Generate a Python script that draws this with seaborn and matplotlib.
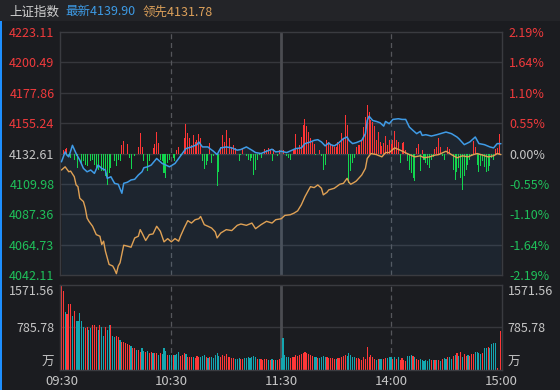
import matplotlib
matplotlib.use("Agg")
import matplotlib.pyplot as plt
import seaborn as sns
import pandas as pd
from matplotlib.patches import Rectangle

# ---------------- data ----------------
index_name = "上证指数"
last_price = 4139.90
lead_last = 4131.78
prev_close = 4132.61
price_ticks = [4223.11, 4200.49, 4177.86, 4155.24, 4132.61, 4109.98, 4087.36, 4064.73, 4042.11]
pct_labels = ["2.19%", "1.64%", "1.10%", "0.55%", "0.00%", "-0.55%", "-1.10%", "-1.64%", "-2.19%"]
time_pos = [0, 60, 120, 180, 240]
time_labels = ["09:30", "10:30", "11:30", "14:00", "15:00"]
vol_ticks = [160, 785.78, 1571.56]
vol_tick_labels = ["万", "785.78", "1571.56"]

price_min = [0,2,3,4,6,8,10,12,14,16,18,20,22,24,25,27,29,31,33,34,36,38,40,42,44,45,47,49,52,54,
             55,57,59,62,64,66,68,71,74,75,77,80,81,83,85,87,90,93,96,98,101,104,106,109,112,115,117,120,123,126,
             128,131,133,136,138,140,142,144,146,147,149,151,154,156,157,159,161,164,166,167,168,170,172,174,176,177,179,181,184,186,
             188,190,192,194,196,197,199,202,205,207,210,213,216,217,220,223,226,228,231,234,236,238,240]
price_val = [4126.4,4133.8,4131.4,4130.1,4138.7,4132.6,4127.7,4121.5,4119.0,4120.3,4117.8,4124.0,4121.5,4120.3,4114.1,4115.3,4110.4,4109.7,4103.0,4110.4,
             4111.2,4112.9,4113.4,4116.6,4119.0,4122.0,4122.7,4124.0,4128.9,4126.4,4125.2,4124.0,4122.7,4125.2,4128.9,4132.6,4136.3,4137.5,4139.2,4141.2,
             4137.5,4137.5,4136.3,4134.3,4131.8,4136.8,4137.5,4136.8,4135.1,4135.6,4137.5,4135.1,4133.3,4132.6,4134.3,4135.8,4133.8,4134.3,4133.3,4135.1,
             4136.3,4136.8,4140.0,4141.2,4142.4,4142.9,4141.2,4138.3,4140.5,4139.2,4138.3,4140.0,4143.7,4144.9,4142.4,4140.0,4140.7,4142.4,4147.4,4157.2,
             4160.4,4157.2,4156.5,4155.5,4153.0,4156.5,4154.8,4158.0,4158.5,4158.0,4158.0,4152.3,4149.8,4147.4,4149.1,4146.1,4146.6,4145.6,4146.6,4147.4,
             4148.6,4147.4,4144.9,4143.7,4139.2,4141.2,4144.9,4140.0,4139.2,4137.5,4136.8,4140.0,4139.9]

lead_min = [0,2,4,5,7,8,9,10,12,13,14,15,17,19,21,22,23,24,26,28,29,30,31,32,34,36,38,40,42,43,
            44,46,48,50,52,54,56,58,60,62,64,65,67,69,71,73,75,76,78,80,82,84,85,87,90,93,96,98,101,104,
            106,109,112,115,117,120,122,125,127,129,131,133,135,136,138,140,142,143,145,146,149,152,154,156,157,158,160,161,164,166,
            167,169,172,175,177,179,182,185,187,190,193,196,198,201,204,206,210,213,216,219,222,225,227,230,233,236,238,240]
lead_val = [4120.3,4122.7,4119.0,4119.5,4115.3,4109.2,4107.9,4099.3,4096.8,4091.9,4084.5,4082.1,4078.4,4072.2,4071.0,4064.8,4067.3,4059.9,4050.0,4048.8,
            4046.3,4043.1,4048.8,4051.2,4064.3,4063.6,4062.8,4069.7,4071.0,4075.9,4073.4,4067.8,4072.2,4072.7,4078.4,4074.7,4066.8,4069.2,4066.8,4069.2,
            4067.3,4071.0,4077.1,4082.6,4080.8,4083.3,4084.0,4085.7,4079.6,4078.4,4077.1,4074.2,4069.7,4073.4,4075.9,4075.2,4079.1,4080.1,4079.1,4080.8,
            4076.6,4079.6,4082.1,4080.8,4083.3,4084.0,4086.5,4087.0,4088.2,4089.9,4094.4,4100.5,4105.5,4107.9,4107.2,4109.2,4106.7,4101.8,4103.7,4105.5,
            4106.7,4109.7,4110.4,4114.1,4111.2,4109.7,4111.2,4112.1,4116.6,4121.5,4128.9,4132.6,4131.8,4130.1,4133.3,4133.3,4136.8,4135.1,4133.8,4131.8,
            4130.1,4130.9,4129.4,4130.1,4131.4,4131.8,4134.3,4131.8,4129.4,4130.9,4130.1,4131.8,4132.6,4131.4,4130.1,4130.9,4132.6,4131.78]

# up/down breadth bars around the zero line: (minute, strength)
breadth = [(1,11),(2,14),(3,16),(4,-9),(5,-14),(7,-19),(8,-9),(9,-44),(11,-29),(12,-24),(13,-34),(14,-39),(16,-24),(17,-19),
           (18,-34),(19,-44),(20,-49),(22,-54),(23,-54),(24,-69),(25,-96),(26,-59),(27,-44),(29,-24),(30,-39),(31,-19),(32,-22),
           (33,26),(34,38),(36,28),(37,-14),(38,-46),(40,-9),(42,21),(43,63),(44,21),(45,-24),(47,-54),(48,-24),(50,18),(51,28),
           (52,66),(53,31),(54,-19),(55,-24),(56,-59),(57,-74),(58,-29),(59,-19),(61,-14),(62,-24),(63,11),(64,21),(65,-6),(67,46),
           (68,88),(69,61),(70,46),(71,26),(72,56),(73,36),(74,41),(75,58),(76,46),(77,-24),(78,-46),(79,-34),(80,-24),(81,31),
           (82,-29),(83,-9),(85,-99),(86,-56),(87,21),(88,56),(89,36),(90,71),(92,48),(93,21),(94,26),(95,16),(97,-24),(98,-6),
           (99,16),(101,-9),(102,-19),(103,-24),(104,-14),(105,-64),(106,-49),(107,-19),(108,-6),(109,-14),(111,14),(112,11),
           (113,18),(114,11),(115,-24),(116,14),(118,-9),(119,11),(121,11),(123,-9),(124,-14),(125,-19),(127,11),(128,58),(129,18),
           (130,26),(131,51),(132,86),(133,104),(134,84),(135,66),(136,46),(137,36),(138,28),(139,-4),(141,11),(142,-9),(143,-49),
           (144,-34),(145,41),(146,36),(147,26),(148,26),(149,21),(150,21),(151,36),(152,28),(153,61),(154,48),(155,116),(156,86),
           (157,-89),(158,-54),(159,-29),(160,-14),(161,21),(162,26),(163,26),(164,38),(165,81),(166,111),(167,148),(168,126),
           (169,101),(170,96),(171,84),(172,41),(173,66),(174,36),(175,24),(176,31),(177,54),(178,26),(179,41),(180,28),(181,41),
           (182,68),(183,41),(184,34),(185,-29),(186,31),(187,36),(188,11),(189,-24),(190,-49),(191,-59),(192,-74),(193,-84),
           (194,18),(195,28),(196,-54),(197,11),(198,-19),(199,-29),(200,-34),(201,-44),(202,-19),(203,-12),(204,14),(205,21),
           (206,48),(207,21),(208,-9),(209,-19),(211,21),(212,14),(213,-4),(214,-49),(215,-79),(216,-56),(217,-44),(218,-74),
           (219,-109),(220,-69),(221,-49),(222,-34),(223,-19),(224,-9),(225,38),(226,21),(227,-34),(228,-56),(229,-39),(230,-22),
           (231,-42),(232,-56),(233,-52),(234,-39),(235,-14),(236,-19),(237,14),(238,18),(239,58)]
breadth_limit = 367

volume = [1571,1454,1061,1036,1223,1223,998,1080,911,911,
          1048,911,786,767,786,736,767,830,830,786,
          736,830,799,624,799,736,830,830,624,599,
          624,599,549,518,518,499,474,456,437,393,
          393,362,362,331,393,349,331,349,312,331,
          312,300,312,268,300,287,393,349,268,268,
          268,268,268,287,331,250,268,300,287,237,
          225,225,225,206,250,225,237,250,268,225,
          206,237,225,206,268,300,250,237,268,250,
          287,237,225,206,218,200,193,206,187,193,
          206,218,225,206,237,250,225,200,187,193,
          181,187,193,175,181,187,175,168,175,187,
          206,585,262,237,225,212,225,237,268,250,
          262,287,312,331,300,287,268,250,237,225,
          218,206,225,250,237,225,218,212,206,200,
          193,206,218,237,250,268,250,300,268,237,
          225,218,206,200,175,225,200,424,237,268,
          225,187,175,187,187,193,200,212,206,225,
          225,187,237,187,225,175,206,175,162,250,
          250,268,250,225,187,175,187,175,162,175,
          162,187,175,175,175,175,175,162,187,206,
          187,225,225,187,250,268,312,250,331,225,
          287,250,268,250,287,287,331,331,312,287,
          312,393,393,424,393,474,499,487,37,0,
          724]
vol_dir = ("rrtrrrtrtt" "tttrrttrrr" "trttrttrtt" "rrtrrrrrtr" "rtrrttrtrr" "trrtrtttrt"
           "trtttrrrtr" "rrtrrrtttr" "trtttttrrr" "rrrrrtttrr" "tttttttrtr" "rrrtrtrtrr"
           "tttttrrrrr" "rrrrrrrrtt" "rttttrrrrr" "trrrrrtttt" "trrrrrrrrr" "rrtrttrrtt"
           "trtrtrrrrt" "ttrtrrtttt" "ttrtrtrtrt" "trttrtrtrt" "rrtrrrtttt" "rttrttttrr" "r")
auction_volume = 660

# ---------------- style ----------------
BG = "#1b1c20"
HEADER = "#232428"
GRID = "#36373c"
SPINE = "#3a3b40"
RED_TXT = "#f03a3c"
GRN_TXT = "#1fc05a"
GRAY_TXT = "#c6c6c6"
BLUE = "#3f9be6"
ORANGE = "#dfa155"
BAR_RED = "#ff3535"
BAR_GRN = "#12d64e"
VOL_RED = "#ff3838"
VOL_TEAL = "#14a6b0"

sns.set_style("dark")
plt.rcParams["font.family"] = ["Noto Sans CJK SC", "DejaVu Sans"]

W, H = 560, 390
fig = plt.figure(figsize=(W / 100, H / 100), dpi=100, facecolor=BG)

fig.patches.append(Rectangle((0, 1 - 21 / H), 1, 21 / H, transform=fig.transFigure,
                             facecolor=HEADER, edgecolor="none", zorder=-2))
fig.patches.append(Rectangle((0, 0), 2 / W, 1 - 21 / H, transform=fig.transFigure,
                             facecolor="#1e8fff", edgecolor="none", zorder=-1))

fig.text(9 / W, 1 - 12 / H, index_name, color="#d0d0d0", fontsize=9, va="center", ha="left")
fig.text(65 / W, 1 - 12 / H, f"最新{last_price:.2f}", color="#3d9ae4", fontsize=9, va="center", ha="left")
fig.text(143 / W, 1 - 12 / H, f"领先{lead_last:.2f}", color="#dca05a", fontsize=9, va="center", ha="left")

left, right = 60 / W, 502 / W
ax = fig.add_axes([left, 1 - 275 / H, right - left, (275 - 32) / H])
axv = fig.add_axes([left, 1 - 369.5 / H, right - left, (369.5 - 285) / H])

xlim = (-0.8, 240.6)
for a in (ax, axv):
    a.set_facecolor(BG)
    a.set_xlim(*xlim)
    for s in a.spines.values():
        s.set_color(SPINE)
        s.set_linewidth(1)
    a.axvline(60, color="#55565b", lw=0.9, ls=(0, (4, 3)), zorder=0.5)
    a.axvline(120, color="#4b4c51", lw=2.0, zorder=0.5)
    a.axvline(180, color="#55565b", lw=0.9, ls=(0, (4, 3)), zorder=0.5)
    a.grid(False)

ylo, yhi = price_ticks[-1], price_ticks[0]
ax.set_ylim(ylo, yhi)
for t in price_ticks[1:-1]:
    ax.axhline(t, color=GRID, lw=1, zorder=0.4)

# blue area fill
ax.fill_between(price_min, price_val, ylo, color=BLUE, alpha=0.08, lw=0, zorder=1)

def tcolor(v):
    if abs(v - prev_close) < 1e-6:
        return GRAY_TXT
    return RED_TXT if v > prev_close else GRN_TXT

ax.set_yticks(price_ticks)
ax.set_yticklabels([f"{t:.2f}" for t in price_ticks])
ax.set_xticks([])
ax.tick_params(axis="y", length=0, pad=4, labelsize=9)
for lab, t in zip(ax.get_yticklabels(), price_ticks):
    lab.set_color(tcolor(t))

# breadth bars on their own hidden scale
axb = ax.twinx()
axb.set_ylim(-breadth_limit, breadth_limit)
axb.set_xlim(*xlim)
axb.set_yticks([])
for s in axb.spines.values():
    s.set_visible(False)
bdf = pd.DataFrame(breadth, columns=["minute", "strength"])
axb.bar(bdf["minute"], bdf["strength"], width=0.55,
        color=[BAR_RED if v > 0 else BAR_GRN for v in bdf["strength"]], lw=0, antialiased=False)

# lines
axl = ax.twinx()
axl.set_ylim(ylo, yhi)
axl.set_xlim(*xlim)
for s in axl.spines.values():
    s.set_visible(False)
pdf = pd.DataFrame({"minute": price_min, "price": price_val})
ldf = pd.DataFrame({"minute": lead_min, "lead": lead_val})
sns.lineplot(data=ldf, x="minute", y="lead", ax=axl, color=ORANGE, lw=1.0, legend=False)
sns.lineplot(data=pdf, x="minute", y="price", ax=axl, color=BLUE, lw=1.1, legend=False)
axl.set_xlabel("")
axl.set_ylabel("")
axl.set_xticks([])
axl.set_yticks(price_ticks)
axl.set_yticklabels(pct_labels)
axl.tick_params(axis="y", length=0, pad=5, labelsize=9)
for lab, t in zip(axl.get_yticklabels(), price_ticks):
    lab.set_color(tcolor(t))
ax.set_ylabel("")

# volume
axv.set_ylim(0, vol_ticks[-1])
axv.axhline(vol_ticks[1], color=GRID, lw=1, zorder=0.4)
minutes = list(range(len(volume)))
axv.bar(minutes, volume, width=0.62,
        color=[VOL_RED if d == "r" else VOL_TEAL for d in vol_dir], lw=0, zorder=2, antialiased=False)
axv.bar(-0.55, auction_volume, width=0.45, color="#e6e6e6", lw=0, zorder=2, antialiased=False)
axv.set_yticks(vol_ticks)
axv.set_yticklabels(vol_tick_labels)
axv.tick_params(axis="y", length=0, pad=4, labelsize=9, labelcolor=GRAY_TXT,
                left=False, right=False, labelleft=True, labelright=True)
axv.set_xticks(time_pos)
axv.set_xticklabels(time_labels)
axv.tick_params(axis="x", length=0, pad=4, labelsize=9.5, labelcolor=GRAY_TXT)
for tk in axv.yaxis.get_major_ticks():
    if tk.label1.get_text() == "1571.56":
        tk.label1.set_va("top")
        tk.label2.set_va("top")
axv.set_xlabel("")
axv.set_ylabel("")

fig.savefig("out.png", dpi=100, facecolor=BG)
